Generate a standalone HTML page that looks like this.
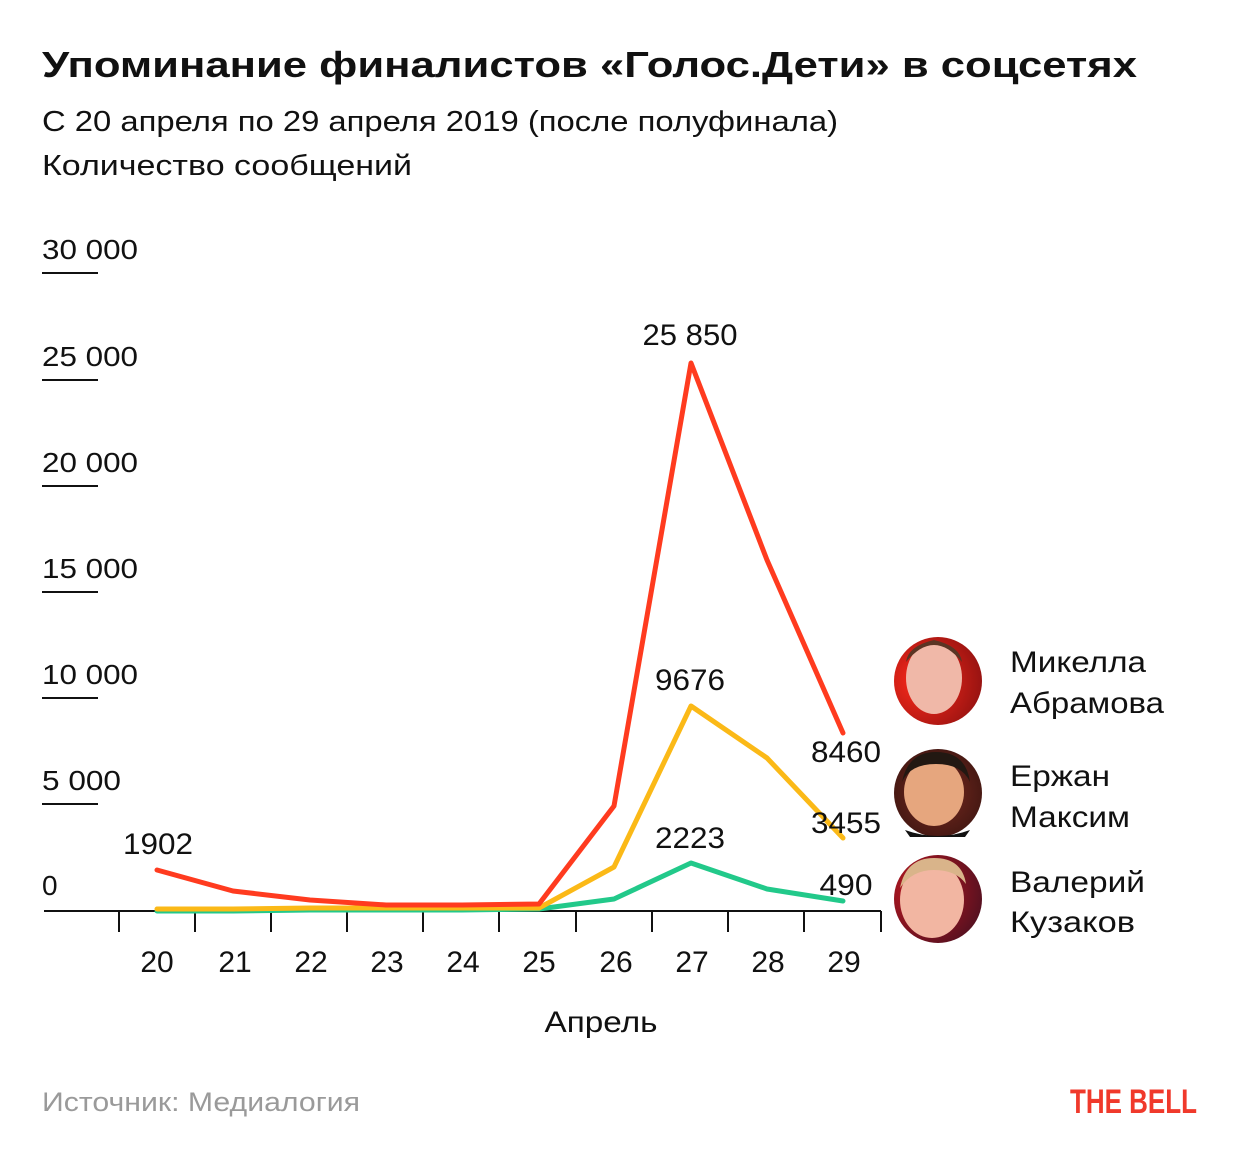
<!DOCTYPE html>
<html><head><meta charset="utf-8"><style>
html,body{margin:0;padding:0;background:#fff}
svg{display:block}
text{font-family:"Liberation Sans","DejaVu Sans",sans-serif;fill:#111}
</style></head><body>
<svg width="1240" height="1160" viewBox="0 0 1240 1160" xmlns="http://www.w3.org/2000/svg">
<text x="42" y="77" font-size="36" font-weight="bold" textLength="1095" lengthAdjust="spacingAndGlyphs">Упоминание финалистов «Голос.Дети» в соцсетях</text>
<text x="42" y="131" font-size="29" textLength="796" lengthAdjust="spacingAndGlyphs">С 20 апреля по 29 апреля 2019 (после полуфинала)</text>
<text x="42" y="175" font-size="29" textLength="370" lengthAdjust="spacingAndGlyphs">Количество сообщений</text>

<g font-size="28">
<text x="42" y="259" textLength="96" lengthAdjust="spacingAndGlyphs">30 000</text>
<text x="42" y="366" textLength="96" lengthAdjust="spacingAndGlyphs">25 000</text>
<text x="42" y="472" textLength="96" lengthAdjust="spacingAndGlyphs">20 000</text>
<text x="42" y="578" textLength="96" lengthAdjust="spacingAndGlyphs">15 000</text>
<text x="42" y="684" textLength="96" lengthAdjust="spacingAndGlyphs">10 000</text>
<text x="42" y="790" textLength="79" lengthAdjust="spacingAndGlyphs">5 000</text>
<text x="42" y="895">0</text>
</g>
<g stroke="#111" stroke-width="2">
<line x1="42" y1="273" x2="98" y2="273"/>
<line x1="42" y1="380" x2="98" y2="380"/>
<line x1="42" y1="486" x2="98" y2="486"/>
<line x1="42" y1="592" x2="98" y2="592"/>
<line x1="42" y1="698" x2="98" y2="698"/>
<line x1="42" y1="804" x2="98" y2="804"/>
<line x1="44" y1="911" x2="881" y2="911"/>
<path d="M119 911V932M195 911V932M271 911V932M347 911V932M423 911V932M499 911V932M576 911V932M652 911V932M728 911V932M804 911V932M881 911V932"/>
</g>

<g fill="none" stroke-width="5" stroke-linejoin="round" stroke-linecap="round">
<polyline stroke="#22c98a" points="157,911 233,911 310,910 386,910 462,910 539,909 614,899 691,863 767,889 843,901"/>
<polyline stroke="#fbb917" points="157,909 233,909 310,908 386,908 462,908 539,908 614,867 691,706 767,758 843,838"/>
<polyline stroke="#ff3b1f" points="157,870 233,891 310,900 386,905 462,905 539,904 614,806 691,363 767,560 843,733"/>
</g>

<g font-size="30" text-anchor="middle">
<text x="690" y="345" textLength="95" lengthAdjust="spacingAndGlyphs">25 850</text>
<text x="690" y="690" textLength="70" lengthAdjust="spacingAndGlyphs">9676</text>
<text x="846" y="762" textLength="70" lengthAdjust="spacingAndGlyphs">8460</text>
<text x="846" y="833" textLength="70" lengthAdjust="spacingAndGlyphs">3455</text>
<text x="690" y="848" textLength="70" lengthAdjust="spacingAndGlyphs">2223</text>
<text x="846" y="895" textLength="53" lengthAdjust="spacingAndGlyphs">490</text>
<text x="158" y="854" textLength="70" lengthAdjust="spacingAndGlyphs">1902</text>
<text x="157" y="972">20</text>
<text x="235" y="972">21</text>
<text x="311" y="972">22</text>
<text x="387" y="972">23</text>
<text x="463" y="972">24</text>
<text x="539" y="972">25</text>
<text x="616" y="972">26</text>
<text x="692" y="972">27</text>
<text x="768" y="972">28</text>
<text x="844" y="972">29</text>
<text x="601" y="1032" textLength="113" lengthAdjust="spacingAndGlyphs">Апрель</text>
</g>

<defs>
<radialGradient id="bg1" cx="0.3" cy="0.5" r="0.8"><stop offset="0" stop-color="#ff2a1a"/><stop offset="1" stop-color="#8a1010"/></radialGradient>
<radialGradient id="bg2" cx="0.5" cy="0.5" r="0.8"><stop offset="0" stop-color="#7a2a20"/><stop offset="1" stop-color="#2a0f0c"/></radialGradient>
<radialGradient id="bg3" cx="0.3" cy="0.4" r="0.8"><stop offset="0" stop-color="#c81820"/><stop offset="1" stop-color="#4a1020"/></radialGradient>
</defs>
<circle cx="938" cy="681" r="44" fill="url(#bg1)"/>
<ellipse cx="934" cy="678" rx="28" ry="36" fill="#f0b8a8"/>
<path d="M906 662 Q934 628 962 662 Q960 646 934 640 Q908 646 906 662Z" fill="#5a3524"/>
<circle cx="938" cy="793" r="44" fill="url(#bg2)"/>
<ellipse cx="934" cy="792" rx="30" ry="34" fill="#e6a67e"/>
<path d="M902 782 Q908 752 936 752 Q966 752 970 782 Q962 764 936 764 Q910 764 902 782Z" fill="#221812"/>
<path d="M905 830 Q938 842 970 830 L965 837 L910 837Z" fill="#111"/>
<circle cx="938" cy="899" r="44" fill="url(#bg3)"/>
<ellipse cx="932" cy="900" rx="32" ry="38" fill="#f2b6a2"/>
<path d="M900 888 Q906 858 934 858 Q962 858 966 884 Q956 870 934 870 Q912 870 900 888Z" fill="#d9b48a"/>

<g font-size="30">
<text x="1010" y="672" textLength="136" lengthAdjust="spacingAndGlyphs">Микелла</text>
<text x="1010" y="713" textLength="154" lengthAdjust="spacingAndGlyphs">Абрамова</text>
<text x="1010" y="786" textLength="100" lengthAdjust="spacingAndGlyphs">Ержан</text>
<text x="1010" y="827" textLength="120" lengthAdjust="spacingAndGlyphs">Максим</text>
<text x="1010" y="892" textLength="135" lengthAdjust="spacingAndGlyphs">Валерий</text>
<text x="1010" y="932" textLength="125" lengthAdjust="spacingAndGlyphs">Кузаков</text>
</g>

<text x="42" y="1111" font-size="27" style="fill:#9a9a9a" textLength="318" lengthAdjust="spacingAndGlyphs">Источник: Медиалогия</text>
<text x="1070" y="1113" font-size="34" font-weight="bold" style="fill:#f0392b" textLength="127" lengthAdjust="spacingAndGlyphs">THE BELL</text>
</svg>
</body></html>
